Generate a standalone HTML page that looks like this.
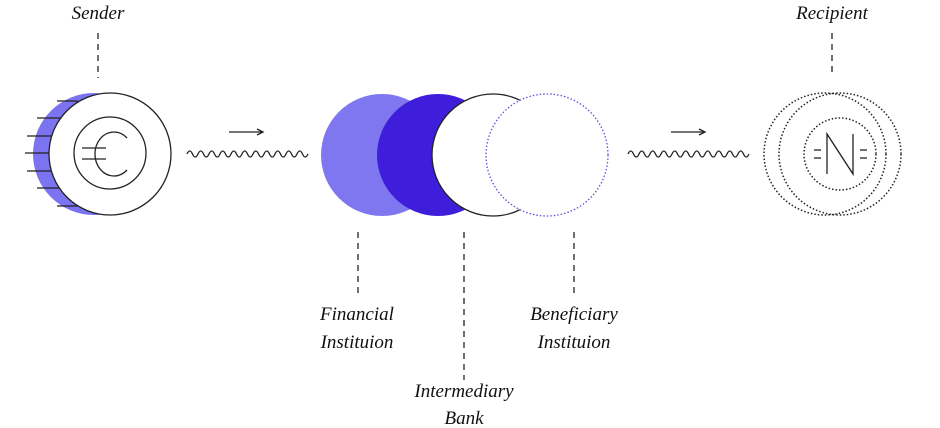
<!DOCTYPE html>
<html><head><meta charset="utf-8"><style>
html,body{margin:0;padding:0;background:#fff;}
svg{display:block}
text{font-family:"Liberation Serif",serif;font-style:italic;font-size:19px;fill:#111;}
</style></head><body>
<svg width="940" height="428" viewBox="0 0 940 428" xmlns="http://www.w3.org/2000/svg">
<text x="98" y="19" text-anchor="middle">Sender</text>
<text x="832" y="19" text-anchor="middle">Recipient</text>
<g stroke="#222" stroke-width="1.3" stroke-dasharray="6,5" fill="none">
<line x1="98" y1="33" x2="98" y2="78"/>
<line x1="832" y1="33" x2="832" y2="76"/>
<line x1="358" y1="232" x2="358" y2="298"/>
<line x1="464" y1="232" x2="464" y2="380"/>
<line x1="574" y1="232" x2="574" y2="298"/>
</g>
<!-- sender -->
<circle cx="94" cy="154" r="61" fill="#7b73ef"/>
<g stroke="#222" stroke-width="1.3">
<line x1="57" y1="101" x2="78" y2="101"/>
<line x1="37" y1="118" x2="60" y2="118"/>
<line x1="27" y1="136" x2="52" y2="136"/>
<line x1="25" y1="153" x2="50" y2="153"/>
<line x1="27" y1="171" x2="52" y2="171"/>
<line x1="37" y1="188" x2="60" y2="188"/>
<line x1="57" y1="206" x2="78" y2="206"/>
</g>
<circle cx="110" cy="154" r="61" fill="#fff" stroke="#222" stroke-width="1.3"/>
<circle cx="110" cy="153" r="36" fill="none" stroke="#222" stroke-width="1.3"/>
<path d="M127 138 A19 22 0 1 0 127 170" fill="none" stroke="#222" stroke-width="1.3"/>
<line x1="82" y1="148" x2="106" y2="148" stroke="#222" stroke-width="1.3"/>
<line x1="82" y1="159" x2="106" y2="159" stroke="#222" stroke-width="1.3"/>
<!-- arrows -->
<g stroke="#222" stroke-width="1.3" fill="none">
<line x1="229" y1="132" x2="262" y2="132"/><path d="M257 129 L263 132 L257 135"/>
<line x1="671" y1="132" x2="704" y2="132"/><path d="M699 129 L705 132 L699 135"/>
<path d="M187 154 q2.75 -6 5.5 0 t5.5 0 t5.5 0 t5.5 0 t5.5 0 t5.5 0 t5.5 0 t5.5 0 t5.5 0 t5.5 0 t5.5 0 t5.5 0 t5.5 0 t5.5 0 t5.5 0 t5.5 0 t5.5 0 t5.5 0 t5.5 0 t5.5 0 t5.5 0 t5.5 0"/>
<path d="M628 154 q2.75 -6 5.5 0 t5.5 0 t5.5 0 t5.5 0 t5.5 0 t5.5 0 t5.5 0 t5.5 0 t5.5 0 t5.5 0 t5.5 0 t5.5 0 t5.5 0 t5.5 0 t5.5 0 t5.5 0 t5.5 0 t5.5 0 t5.5 0 t5.5 0 t5.5 0 t5.5 0"/>
</g>
<!-- middle -->
<circle cx="382" cy="155" r="61" fill="#7f77f0"/>
<circle cx="438" cy="155" r="61" fill="#3f1edb"/>
<circle cx="493" cy="155" r="61" fill="#fff" stroke="#222" stroke-width="1.3"/>
<circle cx="547" cy="155" r="61" fill="#fff" stroke="#5a4fe0" stroke-width="1.3" stroke-dasharray="1.5,2"/>
<!-- recipient -->
<g fill="none" stroke="#222" stroke-width="1.5" stroke-dasharray="1.5,2">
<circle cx="825" cy="154" r="61"/>
<circle cx="840" cy="154" r="61"/>
<circle cx="840" cy="154" r="36"/>
</g>
<g stroke="#222" stroke-width="1.3" fill="none">
<path d="M827 174 L827 134 L853 174 L853 134"/>
<line x1="814" y1="150" x2="821" y2="150"/><line x1="814" y1="158" x2="821" y2="158"/>
<line x1="860" y1="150" x2="867" y2="150"/><line x1="860" y1="158" x2="867" y2="158"/>
</g>
<text x="357" y="320" text-anchor="middle">Financial</text>
<text x="357" y="348" text-anchor="middle">Instituion</text>
<text x="574" y="320" text-anchor="middle">Beneficiary</text>
<text x="574" y="348" text-anchor="middle">Instituion</text>
<text x="464" y="397" text-anchor="middle">Intermediary</text>
<text x="464" y="424" text-anchor="middle">Bank</text>
</svg>
</body></html>
